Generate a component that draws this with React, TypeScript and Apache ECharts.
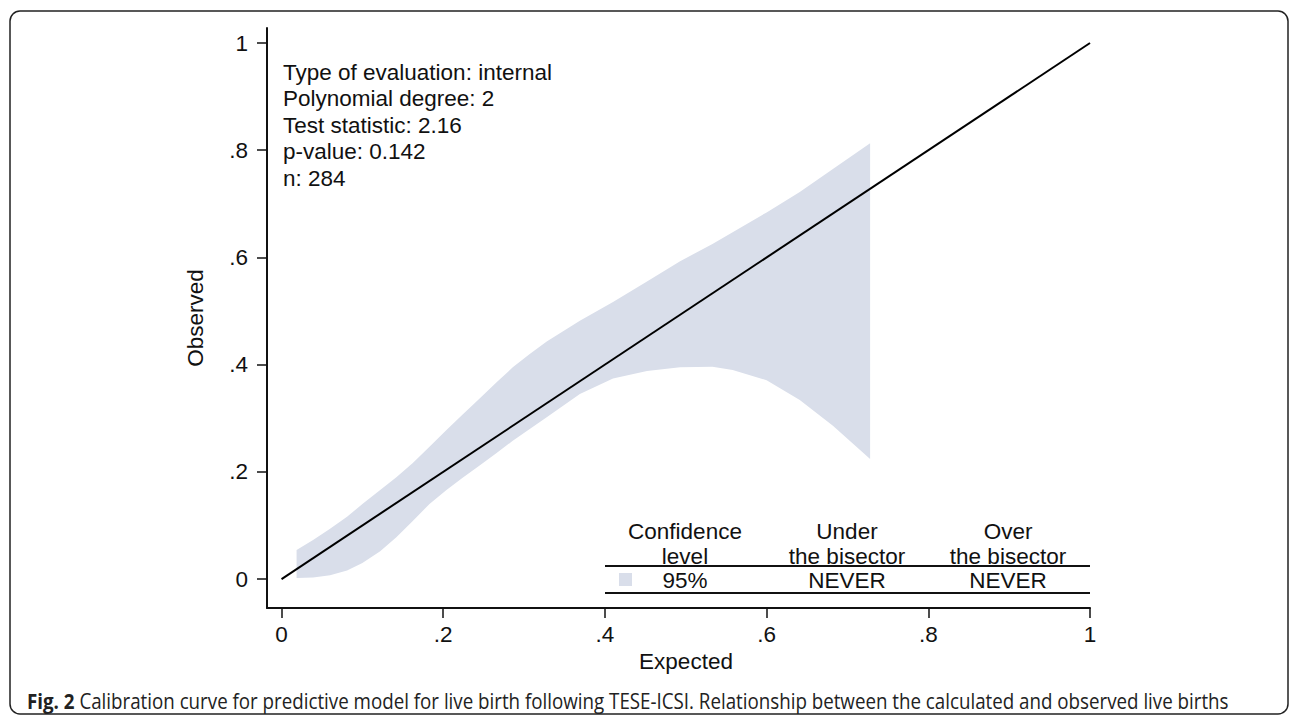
import React, { useEffect, useRef } from "react";
import * as echarts from "echarts";

// Confidence band (95%) of the calibration curve
const bandX = [0.0186, 0.039, 0.06, 0.081, 0.1, 0.122, 0.142, 0.162, 0.183, 0.204, 0.224, 0.245, 0.266, 0.286, 0.307, 0.328, 0.369, 0.41, 0.452, 0.493, 0.533, 0.558, 0.6, 0.641, 0.682, 0.728];
const bandUpper = [0.054, 0.073, 0.094, 0.116, 0.14, 0.166, 0.19, 0.216, 0.247, 0.278, 0.307, 0.337, 0.367, 0.395, 0.42, 0.443, 0.482, 0.517, 0.555, 0.593, 0.625, 0.647, 0.684, 0.722, 0.765, 0.813];
const bandLower = [0.002, 0.003, 0.007, 0.016, 0.03, 0.052, 0.078, 0.108, 0.14, 0.166, 0.189, 0.212, 0.235, 0.258, 0.28, 0.302, 0.345, 0.374, 0.388, 0.395, 0.396, 0.39, 0.371, 0.334, 0.286, 0.224];

// Bisector (perfect calibration)
const bisector = [[0, 0], [1, 1]];

const tickValues = [0, 0.2, 0.4, 0.6, 0.8, 1];

const infoLines = [
  "Type of evaluation: internal",
  "Polynomial degree: 2",
  "Test statistic: 2.16",
  "p-value: 0.142",
  "n: 284",
];

const tableHeader = [
  ["Confidence", "level"],
  ["Under", "the bisector"],
  ["Over", "the bisector"],
];
const tableRow = ["95%", "NEVER", "NEVER"];

const xTitle = "Expected";
const yTitle = "Observed";
const captionBold = "Fig. 2";
const captionText =
  " Calibration curve for predictive model for live birth following TESE-ICSI. Relationship between the calculated and observed live births";

const fmt = (v: number) => (v === 0 ? "0" : v === 1 ? "1" : String(v).replace(/^0/, ""));

const FONT = '"Liberation Sans", Arial, Helvetica, sans-serif';
const FS = 22.5;
const BAND = "#d9deea";

export default function App() {
  const ref = useRef<HTMLDivElement>(null);
  useEffect(() => {
    if (!ref.current) return;
    const chart = echarts.init(ref.current, null, { renderer: "svg" });

    const colX = [685, 847, 1008];
    const graphics: any[] = [];
    graphics.push({
      type: "rect",
      shape: { x: 10, y: 11, width: 1278, height: 703, r: 10 },
      style: { fill: "none", stroke: "#222", lineWidth: 1.5 },
      silent: true,
    });
    infoLines.forEach((t, i) => {
      graphics.push({
        type: "text",
        x: 283,
        y: 72 + i * 26.6,
        style: { text: t, font: `${FS}px ${FONT}`, fill: "#111", textAlign: "left", textVerticalAlign: "middle" },
      });
    });
    tableHeader.forEach((lines, c) => {
      lines.forEach((t, r) => {
        graphics.push({
          type: "text",
          x: colX[c],
          y: 531 + r * 25,
          style: { text: t, font: `${FS}px ${FONT}`, fill: "#111", textAlign: "center", textVerticalAlign: "middle" },
        });
      });
    });
    tableRow.forEach((t, c) => {
      graphics.push({
        type: "text",
        x: colX[c],
        y: 580,
        style: { text: t, font: `${FS}px ${FONT}`, fill: "#111", textAlign: "center", textVerticalAlign: "middle" },
      });
    });
    graphics.push({ type: "line", shape: { x1: 605, y1: 566, x2: 1090, y2: 566 }, style: { stroke: "#111", lineWidth: 2 } });
    graphics.push({ type: "line", shape: { x1: 605, y1: 593, x2: 1090, y2: 593 }, style: { stroke: "#111", lineWidth: 2 } });
    graphics.push({ type: "rect", shape: { x: 619, y: 573, width: 13, height: 13 }, style: { fill: BAND } });
    graphics.push({
      type: "text",
      x: 686,
      y: 661,
      style: { text: xTitle, font: `${FS}px ${FONT}`, fill: "#111", textAlign: "center", textVerticalAlign: "middle" },
    });
    graphics.push({
      type: "text",
      x: 27,
      y: 701,
      style: {
        text: `{b|${captionBold}}{n|${captionText}}`,
        textVerticalAlign: "middle",
        rich: {
          b: { font: `bold 21px "Open Sans", sans-serif`, fill: "#222" },
          n: { font: `21px "Open Sans", sans-serif`, fill: "#222" },
        },
      },
      scaleX: 0.893,
    });

    chart.setOption({
      animation: false,
      backgroundColor: "#fff",
      grid: { left: 267, right: 200, top: 28, bottom: 109 },
      xAxis: {
        type: "value",
        min: -0.018,
        max: 1,
        splitLine: { show: false },
        axisLine: { show: true, onZero: false, lineStyle: { color: "#111", width: 2 } },
        axisTick: { show: true, length: 10, customValues: tickValues, lineStyle: { color: "#111", width: 1.5 } },
        axisLabel: { customValues: tickValues, formatter: fmt, margin: 15, fontSize: FS, color: "#111", fontFamily: FONT },
      },
      yAxis: {
        type: "value",
        min: -0.054,
        max: 1.028,
        name: yTitle,
        nameLocation: "middle",
        nameGap: 60,
        nameTextStyle: { fontSize: FS, color: "#111", fontFamily: FONT },
        splitLine: { show: false },
        axisLine: { show: true, onZero: false, lineStyle: { color: "#111", width: 2 } },
        axisTick: { show: true, length: 10, customValues: tickValues, lineStyle: { color: "#111", width: 1.5 } },
        axisLabel: { customValues: tickValues, formatter: fmt, margin: 19, fontSize: FS, color: "#111", fontFamily: FONT },
      },
      series: [
        {
          type: "custom",
          data: [[0, 0]],
          encode: { x: 0, y: 1 },
          silent: true,
          renderItem: (_p: any, api: any) => {
            const pts: number[][] = [];
            for (let i = 0; i < bandX.length; i++) pts.push(api.coord([bandX[i], bandUpper[i]]));
            for (let i = bandX.length - 1; i >= 0; i--) pts.push(api.coord([bandX[i], bandLower[i]]));
            return { type: "polygon", shape: { points: pts }, style: { fill: BAND } };
          },
          z: 1,
        },
        {
          type: "line",
          data: bisector,
          symbol: "none",
          lineStyle: { color: "#000", width: 2 },
          z: 3,
        },
      ],
      graphic: graphics,
    });
    return () => chart.dispose();
  }, []);
  return <div ref={ref} style={{ position: "absolute", left: 0, top: 0, width: 1290, height: 717 }} />;
}
